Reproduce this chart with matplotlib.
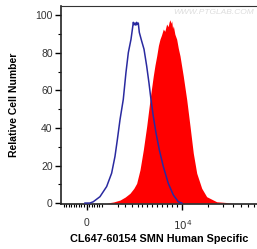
import matplotlib
matplotlib.use("Agg")
import matplotlib.pyplot as plt
import numpy as np

# x is in display units of the logicle axis: 0 -> "0", 1 -> "10^4"
blue_x = [-0.021, 0.031, 0.066, 0.136, 0.206, 0.258, 0.293, 0.318, 0.346, 0.380,
          0.408, 0.433, 0.461, 0.478, 0.485, 0.494, 0.503, 0.512, 0.520, 0.530,
          0.537, 0.548, 0.572, 0.597, 0.625, 0.649, 0.670, 0.694, 0.723, 0.757,
          0.799, 0.851, 0.904, 0.956, 0.992]
blue_y = [0, 0, 0.7, 3.4, 8.8, 15.9, 24.8, 33.8, 44.5, 55.2,
          69.5, 80.2, 87.3, 93.6, 96.3, 95.0, 95.9, 94.8, 96.3, 95.2,
          95.9, 90.9, 86.4, 82.0, 73.0, 64.0, 55.2, 46.3, 37.3, 28.4,
          19.5, 10.5, 4.3, 0.7, 0]

red_x = [0.206, 0.280, 0.346, 0.400, 0.450, 0.490, 0.520, 0.555, 0.590, 0.625,
         0.660, 0.694, 0.712, 0.730, 0.748, 0.764, 0.780, 0.799, 0.815, 0.834,
         0.850, 0.860, 0.869, 0.878, 0.887, 0.896, 0.904, 0.920, 0.939, 0.956,
         0.974, 1.008, 1.044, 1.079, 1.113, 1.149, 1.201, 1.253, 1.358, 1.532, 1.602]
red_y = [0, 0.6, 1.6, 3.2, 5.2, 7.8, 10.5, 17.7, 28.4, 40.9,
         55.2, 67.7, 73.5, 78.4, 84.0, 87.3, 89.5, 92.7, 91.5, 95.4,
         94.0, 96.5, 97.7, 95.8, 97.1, 93.0, 94.5, 90.0, 87.3, 82.5,
         78.4, 67.7, 55.2, 40.9, 26.6, 15.9, 7.9, 3.4, 0.7, 0, 0]

y_ticks = [0, 20, 40, 60, 80, 100]
x_tick_pos = [0, 1]
x_tick_labels = ["0", "$10^4$"]

# logicle-style minor tick positions (display units)
x_minor = ([(p - 87) / 95.5 for p in [64, 66.5, 69, 71.5, 74, 76.5, 79, 81.5, 84,
                                       89.5, 92, 94.5, 97, 99.5, 102]]
           + [(p - 87) / 95.5 for p in [118, 125, 132, 138, 142, 147, 152, 157,
                                         162, 167, 172, 177]]
           + [(p - 87) / 95.5 for p in [208, 223, 233, 241, 248, 254]])

fig = plt.figure(figsize=(2.57, 2.49), dpi=100)
ax = fig.add_axes([61 / 257, 45 / 249, 196 / 257, 198 / 249])

ax.fill_between(red_x, red_y, 0, color="#ff0000", lw=0, zorder=2)
ax.plot(blue_x, blue_y, color="#2a2aa0", lw=1.1, zorder=3)

ax.set_xlim(-0.272, 1.78)
ax.set_ylim(-0.5, 105)

ax.set_yticks(y_ticks)
ax.set_yticks([10, 30, 50, 70, 90], minor=True)
ax.set_xticks(x_tick_pos)
ax.set_xticklabels(x_tick_labels)
ax.set_xticks(x_minor, minor=True)

ax.tick_params(axis="both", which="major", direction="out", length=4, width=1,
               color="black", labelsize=7.5, labelcolor="#333333", pad=2)
ax.tick_params(axis="both", which="minor", direction="out", length=2.5, width=0.8,
               color="black")
ax.tick_params(axis="x", which="major", pad=6)

for s in ["left", "bottom"]:
    ax.spines[s].set_linewidth(1.2)
    ax.spines[s].set_color("#222222")
ax.spines["top"].set_linewidth(0.8)
ax.spines["top"].set_color("#333333")
ax.spines["right"].set_linewidth(0.6)
ax.spines["right"].set_color("#cccccc")

ax.set_ylabel("Relative Cell Number", fontsize=7.5, fontweight="bold",
              family="Liberation Sans", labelpad=12)
ax.set_xlabel("CL647-60154 SMN Human Specific", fontsize=7.8, fontweight="bold",
              family="Liberation Sans", labelpad=2)

for lab in ax.get_xticklabels() + ax.get_yticklabels():
    lab.set_family("Liberation Sans")

fig.text(0.99, 0.95, "WWW.PTGLAB.COM", ha="right", va="center", fontsize=6,
         color="#dddddd", style="italic", family="Liberation Sans")

fig.savefig("out.png", dpi=100)
